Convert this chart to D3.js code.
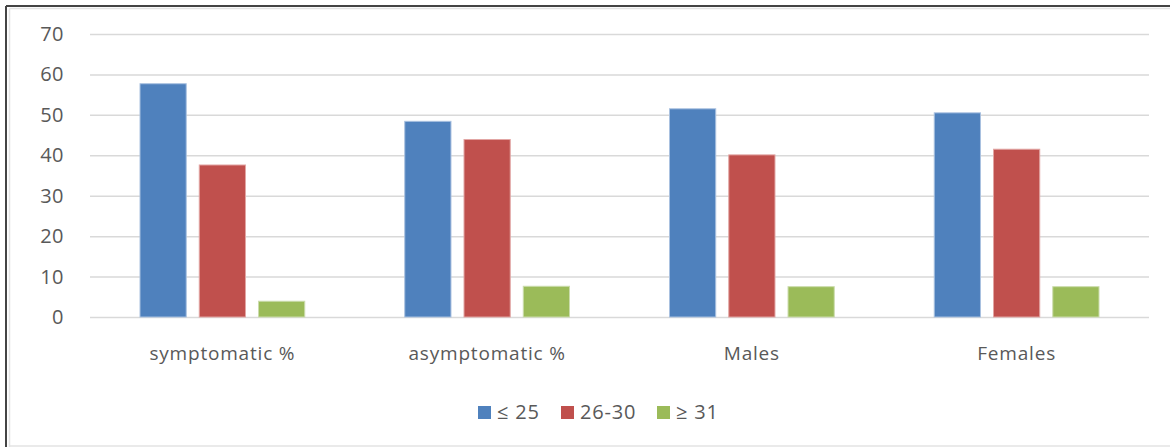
<!DOCTYPE html>
<html lang="en">
<head>
    <meta charset="UTF-8">
    <title>BMI groups by category</title>
    <script src="https://d3js.org/d3.v7.min.js"></script>
    <style>
        body { margin: 0; background: white; }
        text { font-family: "Open Sans", "DejaVu Sans", sans-serif; fill: #595959; }
        .grid line { stroke: #d9d9d9; stroke-width: 1.5; }
        .grid path { display: none; }
        rect.bar { stroke-width: 1; }
    </style>
</head>
<body>
<svg height="447" width="1170"></svg>

<script>
    const categories = ["symptomatic %", "asymptomatic %", "Males", "Females"];
    const groups     = ["≤ 25", "26-30", "≥ 31"];
    const colors     = ["#4F81BD", "#C0504D", "#9BBB59"];
    const strokes    = ["#a9c1e0", "#e2a6a4", "#cbdcac"];

    const lowBmi  = [57.7, 48.4, 51.5, 50.5];
    const midBmi  = [37.6, 43.9, 40.1, 41.5];
    const highBmi = [3.9, 7.6, 7.5, 7.5];
    const series  = [lowBmi, midBmi, highBmi];

    const yTicks = [0, 10, 20, 30, 40, 50, 60, 70];

    const svg = d3.select("svg");

    // frame
    svg.append("line").attr("x1", 6).attr("y1", 6).attr("x2", 1170).attr("y2", 6)
       .attr("stroke", "#444").attr("stroke-width", 2);
    svg.append("line").attr("x1", 6).attr("y1", 6).attr("x2", 6).attr("y2", 447)
       .attr("stroke", "#444").attr("stroke-width", 2);
    svg.append("line").attr("x1", 9.5).attr("y1", 8.5).attr("x2", 1170).attr("y2", 8.5)
       .attr("stroke", "#e3e3e3").attr("stroke-width", 1.5);
    svg.append("line").attr("x1", 9.5).attr("y1", 8.5).attr("x2", 9.5).attr("y2", 447)
       .attr("stroke", "#e3e3e3").attr("stroke-width", 1.5);
    svg.append("line").attr("x1", 9.5).attr("y1", 446).attr("x2", 1170).attr("y2", 446)
       .attr("stroke", "#e3e3e3").attr("stroke-width", 1.5);

    const plot = {left: 90, right: 1149, top: 34, bottom: 317};

    const x0 = d3.scaleBand()
        .domain(categories)
        .range([plot.left, plot.right])
        .paddingInner(0)
        .paddingOuter(0);

    const x1 = d3.scaleBand()
        .domain(groups)
        .range([50, x0.bandwidth() - 50])
        .paddingInner(0.22);

    const y = d3.scaleLinear()
        .domain([0, 70])
        .range([plot.bottom, plot.top]);

    // gridlines
    svg.append("g").attr("class", "grid")
       .attr("transform", `translate(${plot.left},0)`)
       .call(d3.axisLeft(y).tickValues(yTicks).tickSize(-(plot.right - plot.left)).tickFormat(""));

    // y labels
    svg.selectAll("text.ytick")
       .data(yTicks)
       .join("text").attr("class", "ytick")
         .attr("x", 64)
         .attr("y", d => y(d))
         .attr("dy", "0.35em")
         .attr("text-anchor", "end")
         .style("font-size", "20px")
         .style("letter-spacing", "0.5px")
         .text(d => d);

    // bars
    const rows = [];
    categories.forEach((c, i) => {
        groups.forEach((g, j) => rows.push({cat: c, grp: g, j: j, value: series[j][i]}));
    });

    svg.selectAll("rect.bar")
       .data(rows)
       .join("rect").attr("class", "bar")
         .attr("x", d => x0(d.cat) + x1(d.grp))
         .attr("y", d => y(d.value))
         .attr("width", x1.bandwidth())
         .attr("height", d => y(0) - y(d.value))
         .attr("fill", d => colors[d.j])
         .attr("stroke", d => strokes[d.j]);

    // category labels
    svg.selectAll("text.cat")
       .data(categories)
       .join("text").attr("class", "cat")
         .attr("x", d => x0(d) + x0.bandwidth() / 2)
         .attr("y", 353)
         .attr("dy", "0.35em")
         .attr("text-anchor", "middle")
         .style("font-size", "19px")
         .style("letter-spacing", "0.8px")
         .text(d => d);

    // legend
    const legendX = [478, 561, 657];
    const legend = svg.selectAll("g.legend")
       .data(groups)
       .join("g").attr("class", "legend")
         .attr("transform", (d, i) => `translate(${legendX[i]},412)`);
    legend.append("rect")
         .attr("x", 0).attr("y", -6)
         .attr("width", 13).attr("height", 13)
         .attr("fill", (d, i) => colors[i]);
    legend.append("text")
         .attr("x", 19).attr("y", 0)
         .attr("dy", "0.35em")
         .style("font-size", "20px")
         .style("letter-spacing", "0.8px")
         .text(d => d);
</script>

</body>
</html>
